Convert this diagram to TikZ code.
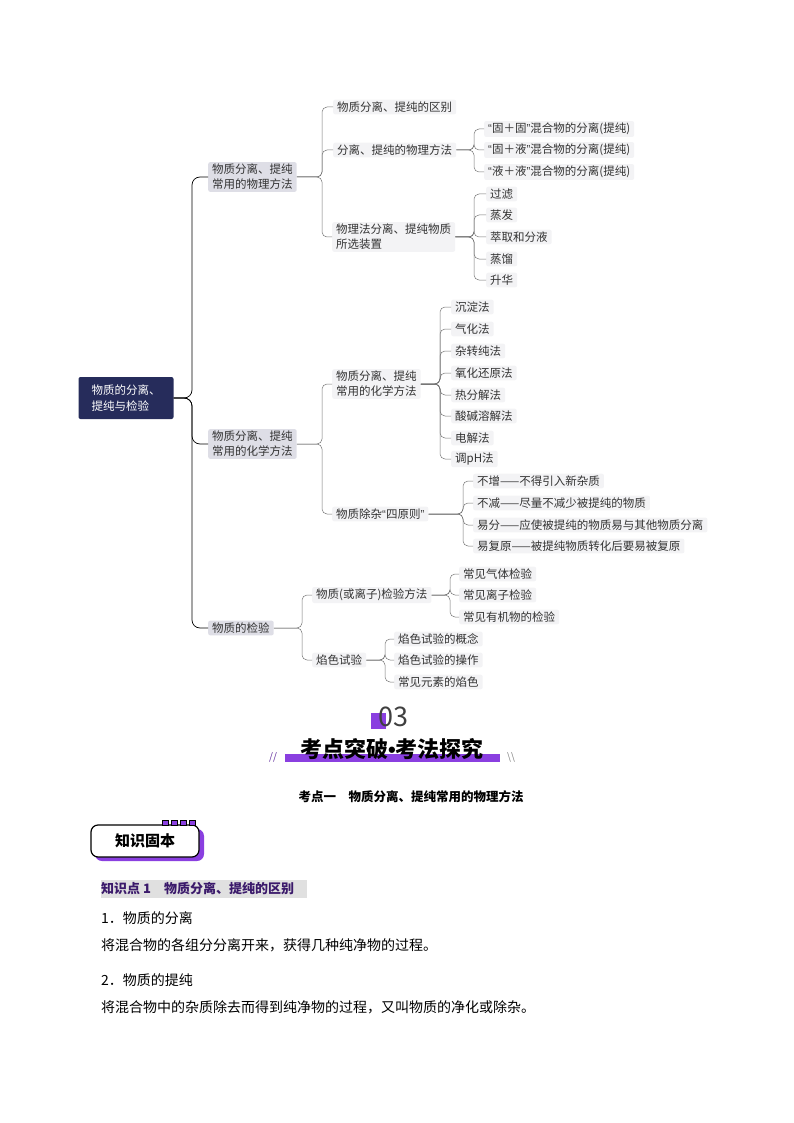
\documentclass[tikz,border=0pt]{standalone}
\usepackage{fontspec}
\setmainfont{Noto Sans CJK SC}
\newfontfamily\latinq{Liberation Sans}
\usetikzlibrary{positioning}
\usetikzlibrary{calc}
\definecolor{navy}{HTML}{262C5B}
\definecolor{lvone}{HTML}{DEDEE6}
\definecolor{leaf}{HTML}{F3F3F5}
\definecolor{violet}{HTML}{8A3FE0}
\definecolor{deepv}{HTML}{3B1A6B}
\newcommand{\oq}{{\latinq\char"201C}}
\newcommand{\cq}{{\latinq\char"201D}}
\begin{document}
\begin{tikzpicture}[x=1pt,y=-1pt]
  \tikzset{
    leaf/.style={fill=leaf,rounded corners=2pt,inner xsep=4pt,inner ysep=2pt,anchor=west,
      font=\fontsize{11.5}{15}\selectfont,text=black!80,align=left},
    lvone/.style={leaf,fill=lvone},
    link/.style={draw=black!55,line width=0.5pt,rounded corners=5pt},
    trunk/.style={draw=black,line width=0.7pt,rounded corners=8pt},
    body/.style={anchor=west,font=\fontsize{14}{16}\selectfont,inner sep=0pt}
  }
  \useasboundingbox (0,0) rectangle (794,1123);
  %ROOT
  \node[fill=navy,text=white,rounded corners=2pt,minimum width=95pt,minimum height=42pt,
    align=left,font=\fontsize{11.5}{16}\selectfont] (root) at (126,398) {物质的分离、\\提纯与检验};
  %LEVEL ONE
  \node[lvone] (phys) at (208,177) {物质分离、提纯\\常用的物理方法};
  \node[lvone] (chem) at (208,444) {物质分离、提纯\\常用的化学方法};
  \node[lvone] (test) at (208,628) {物质的检验};
  \coordinate (b0) at (192,0);
  \foreach \c in {phys,chem,test} {
    \draw[trunk] (root.east) -- (root.east -| b0) |- (\c.west);
  }
  %PHYSICAL
  \node[leaf] (diff) at (333,107) {物质分离、提纯的区别};
  \node[leaf] (pmeth) at (333,150) {分离、提纯的物理方法};
  \node[leaf] (dev) at (332,237) {物理法分离、提纯物质\\所选装置};
  \coordinate (b1) at (322,0);
  \foreach \c in {diff,pmeth,dev} {
    \draw[link] (phys.east) -- (phys.east -| b1) |- (\c.west);
  }
  \node[leaf] (ss) at (484,129) {\oq 固＋固\cq 混合物的分离(提纯)};
  \node[leaf] (sl) at (484,150) {\oq 固＋液\cq 混合物的分离(提纯)};
  \node[leaf] (ll) at (484,172) {\oq 液＋液\cq 混合物的分离(提纯)};
  \coordinate (b2) at (474,0);
  \foreach \c in {ss,sl,ll} {
    \draw[link] (pmeth.east) -- (pmeth.east -| b2) |- (\c.west);
  }
  \foreach \t/\y [count=\i] in {过滤/194,蒸发/215,萃取和分液/237,蒸馏/259,升华/280} {
    \node[leaf] (dev\i) at (486,\y) {\t};
    \draw[link] (dev.east) -- (dev.east -| b2) |- (dev\i.west);
  }
  %CHEMICAL
  \node[leaf] (cmeth) at (332,384) {物质分离、提纯\\常用的化学方法};
  \node[leaf] (rule) at (332,514) {物质除杂\oq 四原则\cq};
  \foreach \c in {cmeth,rule} {
    \draw[link] (chem.east) -- (chem.east -| b1) |- (\c.west);
  }
  \coordinate (b3) at (440,0);
  \foreach \t/\y [count=\i] in {沉淀法/307,气化法/329,杂转纯法/351,氧化还原法/373,
      热分解法/395,酸碱溶解法/416,电解法/438,调pH法/459} {
    \node[leaf] (cm\i) at (451,\y) {\t};
    \draw[link] (cmeth.east) -- (cmeth.east -| b3) |- (cm\i.west);
  }
  \coordinate (b4) at (463,0);
  \foreach \t/\y [count=\i] in {不增——不得引入新杂质/481,不减——尽量不减少被提纯的物质/503,
      易分——应使被提纯的物质易与其他物质分离/525,易复原——被提纯物质转化后要易被复原/546} {
    \node[leaf] (ru\i) at (473,\y) {\t};
    \draw[link] (rule.east) -- (rule.east -| b4) |- (ru\i.west);
  }
  %TESTING
  \node[leaf] (ion) at (312,595) {物质(或离子)检验方法};
  \node[leaf] (flame) at (312,660) {焰色试验};
  \coordinate (b5) at (302,0);
  \foreach \c in {ion,flame} {
    \draw[link] (test.east) -- (test.east -| b5) |- (\c.west);
  }
  \coordinate (b6) at (450,0);
  \foreach \t/\y [count=\i] in {常见气体检验/574,常见离子检验/595,常见有机物的检验/617} {
    \node[leaf] (io\i) at (459,\y) {\t};
    \draw[link] (ion.east) -- (ion.east -| b6) |- (io\i.west);
  }
  \coordinate (b7) at (385,0);
  \foreach \t/\y [count=\i] in {焰色试验的概念/639,焰色试验的操作/660,常见元素的焰色/682} {
    \node[leaf] (fl\i) at (394,\y) {\t};
    \draw[link] (flame.east) -- (flame.east -| b7) |- (fl\i.west);
  }
  %SECTION HEAD
  \fill[violet] (371,713) rectangle (386,729);
  \node[font=\fontsize{27}{27}\selectfont,text=black!75] (num) at (393,717) {03};
  \fill[violet] (285,754) rectangle (500,762);
  \node[font=\fontsize{22}{22}\bfseries\selectfont] (head) at (392,749) {考点突破{\latinq\textbullet}考法探究};
  \node[font=\fontsize{10}{10}\selectfont\itshape,text=violet!70!black] (sl1) at (273,757) {//};
  \node[font=\fontsize{10}{10}\selectfont\itshape,text=black!50] (sl2) at (511,757) {\textbackslash\textbackslash};
  \node[font=\fontsize{12.5}{13}\bfseries\selectfont] (kd) at (411,797) {考点一\quad 物质分离、提纯常用的物理方法};
  %BADGE
  \fill[violet,rounded corners=7pt] (95,829) rectangle (204,861);
  \draw[line width=1.2pt,fill=white,rounded corners=7pt] (91,825) rectangle (199,857);
  \foreach \x in {162,171,180,189} {
    \draw[line width=0.8pt,fill=violet] (\x,820) rectangle ++(6,5);
  }
  \node[font=\fontsize{15}{15}\bfseries\selectfont] (badge) at (145,841) {知识固本};
  %BODY
  \fill[black!12] (101,880) rectangle (307,898);
  \node[body,font=\fontsize{13}{14}\bfseries\selectfont,text=deepv] (kp) at (101,889) {知识点 1\quad 物质分离、提纯的区别};
  \node[body] (t1) at (101,918) {1．物质的分离};
  \node[body] (t2) at (101,945) {将混合物的各组分分离开来，获得几种纯净物的过程。};
  \node[body] (t3) at (101,980) {2．物质的提纯};
  \node[body] (t4) at (101,1007) {将混合物中的杂质除去而得到纯净物的过程，又叫物质的净化或除杂。};
\end{tikzpicture}
\end{document}
